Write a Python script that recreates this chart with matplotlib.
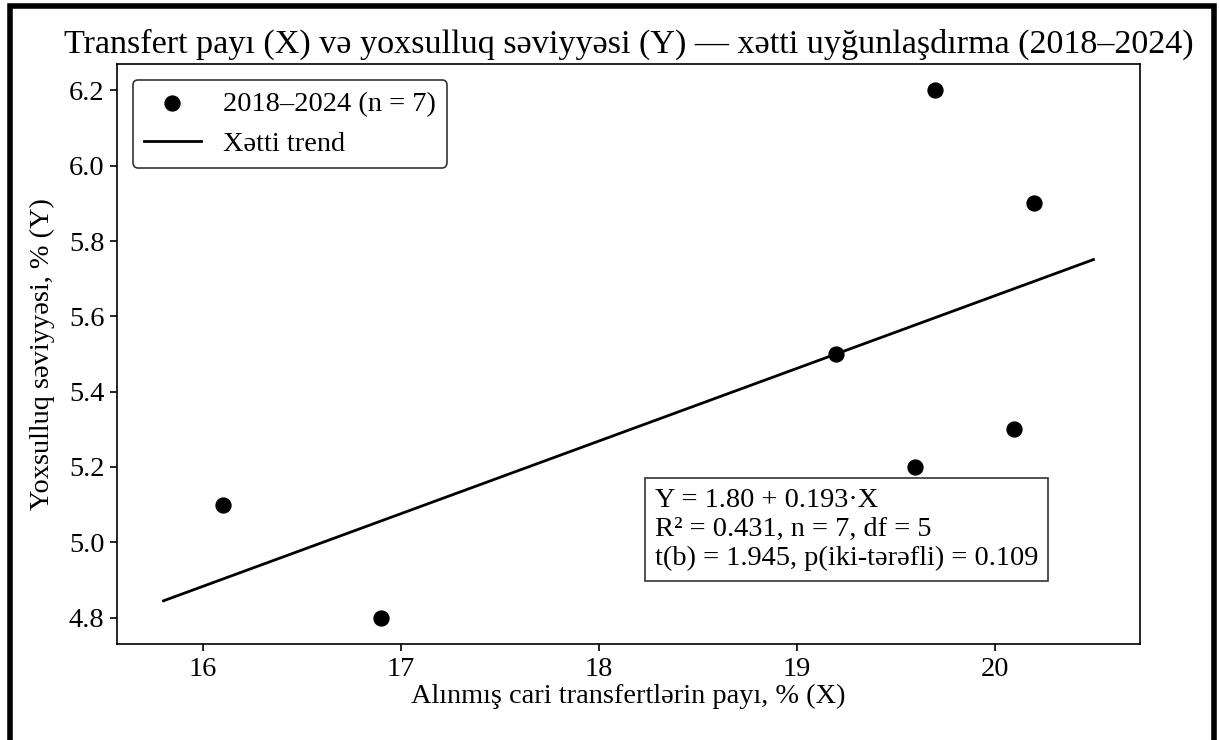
import numpy as np
import matplotlib.pyplot as plt
from matplotlib.patches import Rectangle

# Data: share of received current transfers (X) vs poverty level (Y), 2018-2024
transfer_share = [16.1, 16.9, 19.2, 19.6, 19.7, 20.1, 20.2]
poverty_level = [5.1, 4.8, 5.5, 5.2, 6.2, 5.3, 5.9]
trend_x = [15.8, 20.5]

title = "Transfert payı (X) və yoxsulluq səviyyəsi (Y) — xətti uyğunlaşdırma (2018–2024)"
xlabel = "Alınmış cari transfertlərin payı, % (X)"
ylabel = "Yoxsulluq səviyyəsi, % (Y)"
stats_text = ("Y = 1.80 + 0.193·X\n"
              "R² = 0.431, n = 7, df = 5\n"
              "t(b) = 1.945, p(iki-tərəfli) = 0.109")


def main() -> None:
    plt.rcParams['font.family'] = ['Liberation Serif', 'DejaVu Serif']
    plt.rcParams['font.size'] = 20.4

    b, a = np.polyfit(transfer_share, poverty_level, 1)
    trend_y = [a + b * x for x in trend_x]

    fig = plt.figure(figsize=(12.19, 7.40), dpi=100)
    ax = fig.add_axes([117 / 1219, 1 - 644 / 740, (1140 - 117) / 1219, (644 - 64) / 740])

    ax.scatter(transfer_share, poverty_level, s=115, color='black', zorder=3,
               label='2018–2024 (n = 7)')
    ax.plot(trend_x, trend_y, color='black', lw=2, label='Xətti trend')

    ax.set_title(title, fontsize=24.6, pad=8)
    ax.set_xlabel(xlabel, labelpad=2)
    ax.set_ylabel(ylabel, labelpad=10)
    ax.tick_params(labelsize=20.4, width=1.2, length=5, pad=4)
    ax.set_yticks([4.8, 5.0, 5.2, 5.4, 5.6, 5.8, 6.0, 6.2])
    for sp in ax.spines.values():
        sp.set_linewidth(1.2)

    leg = ax.legend(loc='upper left', frameon=True, fancybox=True,
                    edgecolor='#333333', framealpha=1, borderaxespad=0.55)
    leg.get_frame().set_linewidth(1.2)

    ax.text(0.5259, 0.1259, stats_text, transform=ax.transAxes,
            va='bottom', ha='left', linespacing=1.2,
            bbox=dict(boxstyle='square,pad=0.35', facecolor='white',
                      edgecolor='#333333', linewidth=1.2))

    # thick black frame around the figure (bottom edge cut off)
    fig.patches.append(Rectangle((9.5 / 1219, -0.1), (1213.5 - 9.5) / 1219,
                                 1.1 - 6 / 740, transform=fig.transFigure,
                                 fill=False, edgecolor='black', linewidth=4,
                                 clip_on=False))

    fig.savefig('out.png', dpi=100)


if __name__ == "__main__":
    main()
